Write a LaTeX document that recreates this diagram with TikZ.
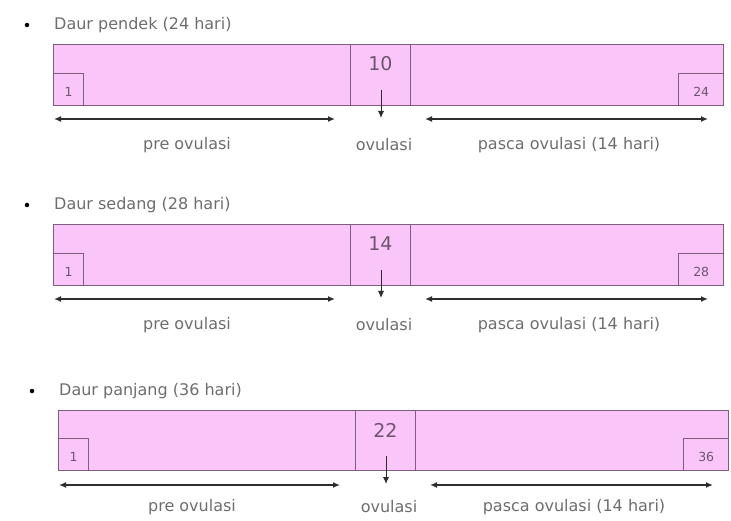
\documentclass[tikz,border=0pt]{standalone}
\usepackage{fontspec}
\setmainfont{DejaVu Sans}
\usetikzlibrary{arrows.meta}
\definecolor{pinkfill}{RGB}{250,198,250}
\definecolor{boxline}{RGB}{125,95,125}
\definecolor{txtgrey}{RGB}{110,110,110}
\definecolor{numcol}{RGB}{110,85,110}
\definecolor{arrowcol}{RGB}{45,45,45}
\tikzset{
  cyclebox/.style={draw=boxline,line width=1.2pt,fill=pinkfill},
  daybox/.style={draw=boxline,line width=1pt},
  titletxt/.style={anchor=west,inner sep=0pt,text=txtgrey,font=\fontsize{16}{16}\selectfont},
  labeltxt/.style={inner sep=0pt,text=txtgrey,font=\fontsize{16}{16}\selectfont},
  bignum/.style={inner sep=0pt,text=numcol,font=\fontsize{19}{19}\selectfont},
  smallnum/.style={inner sep=0pt,text=numcol,font=\fontsize{12.5}{12.5}\selectfont},
  spanarrow/.style={draw=arrowcol,line width=1.4pt,{Latex[length=7pt,width=6pt]}-{Latex[length=7pt,width=6pt]}},
  ovarrow/.style={draw=arrowcol,line width=0.9pt,-{Latex[length=7pt,width=6pt]}},
  bulletdot/.style={circle,fill=black,inner sep=0pt,minimum size=4.5pt}
}
\newcommand{\cycleblock}[8]{%
  % #1 prefix, #2 x, #3 y, #4 title, #5 mid number, #6 last day, #7 rect height, #8 label offset
  \begin{scope}[shift={(#2,#3)}]
    \node[bulletdot] (#1bul) at (-26,-19) {};
    \node[titletxt] (#1title) at (1,-19) {#4};
    \node[cyclebox,minimum width=670pt,minimum height=#7pt,anchor=north west,inner sep=0pt] (#1rect) at (0,0) {};
    \node[daybox,minimum width=60pt,minimum height=#7pt,anchor=north west,inner sep=0pt] (#1mid) at (297,0) {};
    \node[daybox,minimum width=30pt,minimum height=32pt,anchor=south west,inner sep=0pt] (#1first) at (#1rect.south west) {};
    \node[daybox,minimum width=45pt,minimum height=32pt,anchor=south east,inner sep=0pt] (#1last) at (#1rect.south east) {};
    \node[smallnum] (#1firstn) at ([yshift=-2pt]#1first.center) {1};
    \node[smallnum] (#1lastn) at ([yshift=-2pt]#1last.center) {#6};
    \node[bignum] (#1midn) at ([yshift=-20pt]#1mid.north) {#5};
    \coordinate (#1ovtop) at (328,46);
    \coordinate (#1ovbot) at (328,74);
    \draw[ovarrow] (#1ovtop) -- (#1ovbot);
    \coordinate (#1preL) at (1,75);
    \coordinate (#1preR) at (282,75);
    \coordinate (#1postL) at (372,75);
    \coordinate (#1postR) at (655,75);
    \draw[spanarrow] (#1preL) -- (#1preR);
    \draw[spanarrow] (#1postL) -- (#1postR);
    \node[labeltxt] (#1prelab) at (134,#8) {pre ovulasi};
    \node[labeltxt] (#1ovlab) at (331,#8) {ovulasi};
    \node[labeltxt] (#1postlab) at (516,#8) {pasca ovulasi (14 hari)};
  \end{scope}%
}
\begin{document}
\begin{tikzpicture}[x=1pt,y=-1pt]
\useasboundingbox[fill=white] (0,0) rectangle (731,521);
\cycleblock{a}{53}{44}{Daur pendek (24 hari)}{10}{24}{61}{101}
\cycleblock{b}{53}{224}{Daur sedang (28 hari)}{14}{28}{61}{101}
\cycleblock{c}{58}{410}{Daur panjang (36 hari)}{22}{36}{60}{97}
\end{tikzpicture}
\end{document}
